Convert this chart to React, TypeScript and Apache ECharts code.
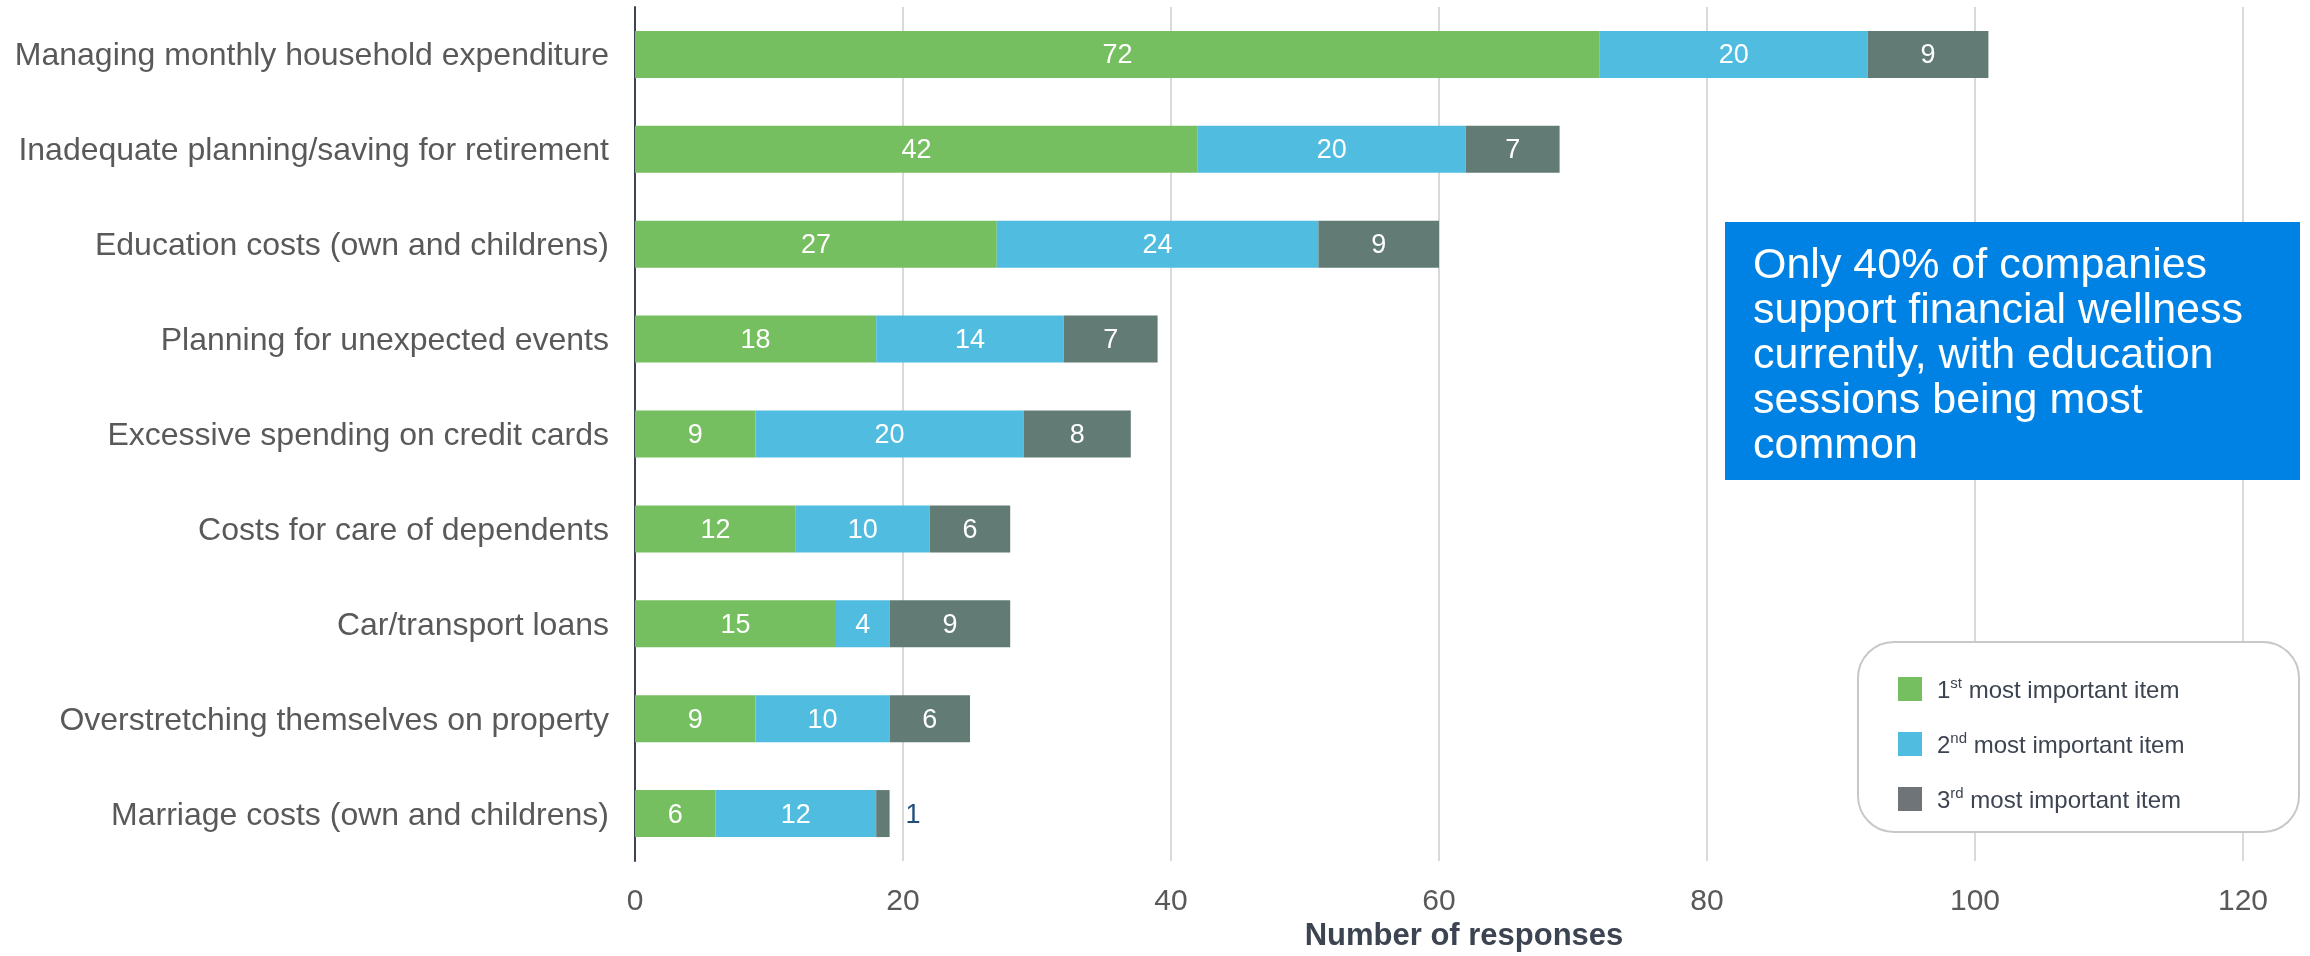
import React, { useEffect, useRef } from "react";
import * as echarts from "echarts";

const categories = [
  "Managing monthly household expenditure",
  "Inadequate planning/saving for retirement",
  "Education costs (own and childrens)",
  "Planning for unexpected events",
  "Excessive spending on credit cards",
  "Costs for care of dependents",
  "Car/transport loans",
  "Overstretching themselves on property",
  "Marriage costs (own and childrens)",
];
const first = [72, 42, 27, 18, 9, 12, 15, 9, 6];
const second = [20, 20, 24, 14, 20, 10, 4, 10, 12];
const third = [9, 7, 9, 7, 8, 6, 9, 6, 1];
const seriesNames = ["1st most important item", "2nd most important item", "3rd most important item"];
const xTicks = { min: 0, max: 120, interval: 20 };
const calloutText = "Only 40% of companies\nsupport financial wellness\ncurrently, with education\nsessions being most\ncommon";

const FONT = "'Liberation Sans', Arial, sans-serif";

export default function App() {
  const ref = useRef<HTMLDivElement>(null);
  useEffect(() => {
    if (!ref.current) return;
    const chart = echarts.init(ref.current, null, { renderer: "svg" });
    const barLabel = { show: true, position: "inside", color: "#ffffff", fontSize: 27, fontFamily: FONT };
    const colors = ["#75BF60", "#50BDE0", "#627B75"];
    const option: any = {
      animation: false,
      textStyle: { fontFamily: FONT },
      grid: { left: 635, right: 67, top: 7, bottom: 95, containLabel: false },
      xAxis: {
        type: "value",
        min: xTicks.min,
        max: xTicks.max,
        interval: xTicks.interval,
        name: "Number of responses",
        nameLocation: "middle",
        nameGap: 58,
        nameTextStyle: { fontSize: 31, fontWeight: "bold", color: "#3D4451", fontFamily: FONT, padding: [0, 0, 0, 50] },
        axisLine: { show: false },
        axisTick: { show: false },
        axisLabel: { fontSize: 30, color: "#595959", margin: 23, fontFamily: FONT },
        splitLine: { show: true, lineStyle: { color: "#D9D9D9", width: 2 } },
      },
      yAxis: {
        type: "category",
        data: categories,
        inverse: true,
        axisLine: { show: true, lineStyle: { color: "#3D4451", width: 2 } },
        axisTick: { show: false },
        axisLabel: { fontSize: 32, color: "#595959", margin: 26, fontFamily: FONT },
      },
      legend: {
        orient: "vertical",
        left: 1893,
        top: 670,
        z: 200,
        itemWidth: 24,
        itemHeight: 24,
        itemGap: 29,
        icon: "rect",
        selectedMode: false,
        data: [
          { name: seriesNames[0], itemStyle: { color: "#75BF60" } },
          { name: seriesNames[1], itemStyle: { color: "#50BDE0" } },
          { name: seriesNames[2], itemStyle: { color: "#6F7479" } },
        ],
        formatter: (name: string) => {
          const m = name.match(/^(\d)(st|nd|rd)(.*)$/);
          if (!m) return name;
          return `{n|${m[1]}}{s|${m[2]}}{n|${m[3]}}`;
        },
        textStyle: {
          color: "#3D4451",
          fontSize: 24,
          fontFamily: FONT,
          padding: [0, 0, 0, 10],
          rich: {
            n: { fontSize: 24, color: "#3D4451", fontFamily: FONT, lineHeight: 28 },
            s: { fontSize: 15, color: "#3D4451", fontFamily: FONT, verticalAlign: "top", lineHeight: 28 },
          },
        },
      },
      series: [
        {
          name: seriesNames[0],
          type: "bar",
          stack: "total",
          barWidth: 47,
          itemStyle: { color: colors[0] },
          label: barLabel,
          data: first,
        },
        {
          name: seriesNames[1],
          type: "bar",
          stack: "total",
          barWidth: 47,
          itemStyle: { color: colors[1] },
          label: barLabel,
          data: second,
        },
        {
          name: seriesNames[2],
          type: "bar",
          stack: "total",
          barWidth: 47,
          itemStyle: { color: colors[2] },
          label: barLabel,
          data: third.map((v) =>
            v < 2
              ? { value: v, label: { position: "right", distance: 16, color: "#1F4E79" } }
              : v
          ),
        },
      ],
      graphic: [
        {
          type: "rect",
          z: 100,
          shape: { x: 1725, y: 222, width: 575, height: 258 },
          style: { fill: "#0082E5" },
        },
        {
          type: "text",
          z: 101,
          x: 1753,
          y: 240,
          style: {
            text: calloutText,
            fill: "#ffffff",
            fontSize: 43,
            lineHeight: 45,
            fontFamily: FONT,
            verticalAlign: "top",
          },
        },
        {
          type: "rect",
          z: 1,
          shape: { x: 1858, y: 642, width: 441, height: 190, r: 36 },
          style: { fill: "#ffffff", stroke: "#C8C8C8", lineWidth: 2 },
        },
      ],
    };
    chart.setOption(option);
    return () => chart.dispose();
  }, []);
  return <div ref={ref} style={{ position: "fixed", left: 0, top: 0, width: 2310, height: 956 }} />;
}
